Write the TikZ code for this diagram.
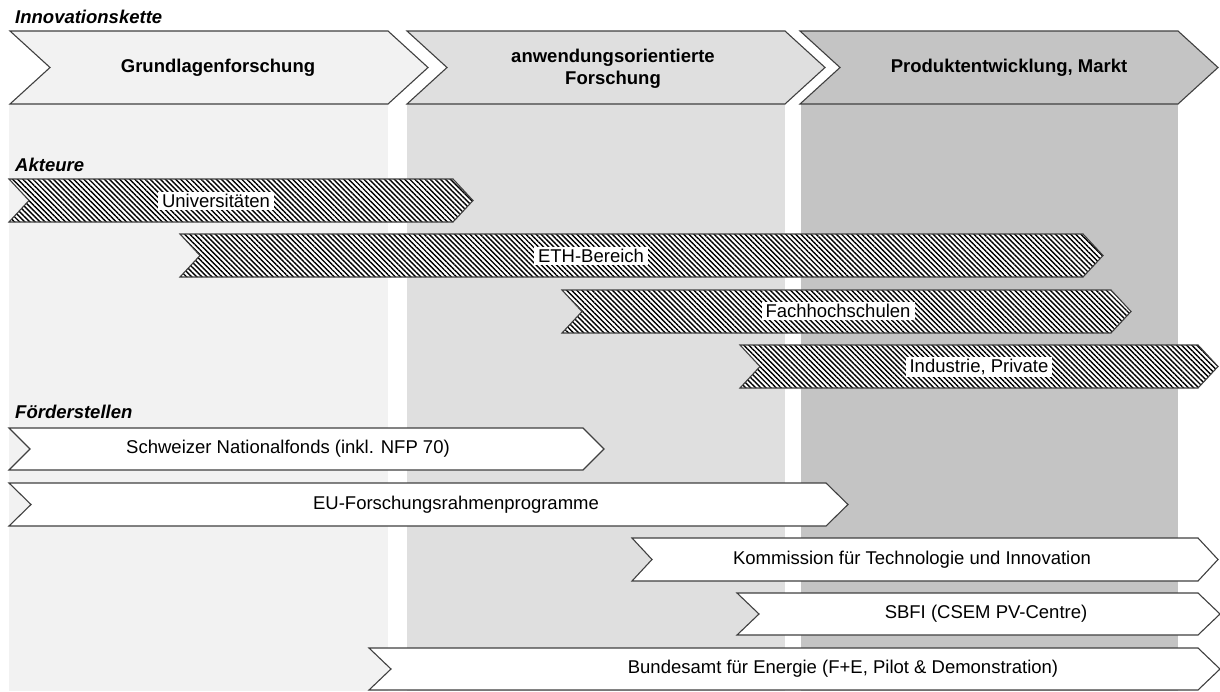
\documentclass[tikz,border=0pt]{standalone}
\usepackage{fontspec}
\setmainfont{Liberation Sans}
\usetikzlibrary{patterns.meta}
\definecolor{colA}{HTML}{F2F2F2}
\definecolor{colB}{HTML}{DFDFDF}
\definecolor{colC}{HTML}{C4C4C4}
\definecolor{edgegray}{HTML}{404040}
\newcommand{\chevshape}[6]{\path[#6] (#1,#3) -- (#2,#3) -- ({#2+#5},{(#3+#4)/2}) -- (#2,#4) -- (#1,#4) -- ({#1+#5},{(#3+#4)/2}) -- cycle;}
\begin{document}
\begin{tikzpicture}[x=1pt,y=-1pt, font=\fontsize{18.5}{22}\selectfont,
 outline/.style={draw=edgegray,line width=1.1pt},
 hatch/.style={outline, preaction={fill=white}, pattern={Lines[angle=-45,distance=3.6pt,line width=1.4pt]}, pattern color=black},
 plain/.style={outline, fill=white},
 head/.style={font=\fontsize{18.5}{22}\selectfont\bfseries, align=center},
 sect/.style={font=\fontsize{18.5}{22}\selectfont\bfseries\itshape, anchor=west, inner sep=0pt},
 lab/.style={fill=white, inner xsep=4pt, inner ysep=2pt},
 txt/.style={inner sep=0pt}]
\useasboundingbox (0,0) rectangle (1220,691);
% columns
\fill[colA] (9,104) rectangle (388,691);
\fill[colB] (407,104) rectangle (785,691);
\fill[colC] (801,104) rectangle (1178,691);
% innovation chain
\chevshape{10}{388}{31}{104}{40}{outline, fill=colA}
\chevshape{407}{785}{31}{104}{40}{outline, fill=colB}
\chevshape{800}{1178}{31}{104}{40}{outline, fill=colC}
\node[sect] (tInno) at (15,17) {Innovationskette};
\node[head] (h1) at (218,68) {Grundlagenforschung};
\node[head] (h2) at (613,69) {anwendungsorientierte\\Forschung};
\node[head] (h3) at (1009,68) {Produktentwicklung, Markt};
% actors
\node[sect] (tAkt) at (15,165) {Akteure};
\chevshape{9}{453}{179}{222}{20}{hatch}
\chevshape{180}{1083}{234}{277}{20}{hatch}
\chevshape{562}{1111}{290}{333}{20}{hatch}
\chevshape{740}{1198}{345}{388}{20}{hatch}
\node[lab] (a1) at (216,201) {Universitäten};
\node[lab] (a2) at (591,256) {ETH-Bereich};
\node[lab] (a3) at (838,311) {Fachhochschulen};
\node[lab] (a4) at (979,367) {Industrie, Private};
% funding
\node[sect] (tFoe) at (15,412) {Förderstellen};
\chevshape{9}{583}{428}{470}{21}{plain}
\chevshape{9}{826}{483}{526}{22}{plain}
\chevshape{632}{1198}{538}{581}{20}{plain}
\chevshape{737}{1198}{593}{635}{22}{plain}
\chevshape{369}{1198}{648}{690}{22}{plain}
\node[txt] (f1) at (288,449) {Schweizer Nationalfonds (inkl. NFP 70)};
\node[txt] (f2) at (456,505) {EU-Forschungsrahmenprogramme};
\node[txt] (f3) at (912,560) {Kommission für Technologie und Innovation};
\node[txt] (f4) at (986,614) {SBFI (CSEM PV-Centre)};
\node[txt] (f5) at (843,669) {Bundesamt für Energie (F+E, Pilot \& Demonstration)};
\end{tikzpicture}
\end{document}
